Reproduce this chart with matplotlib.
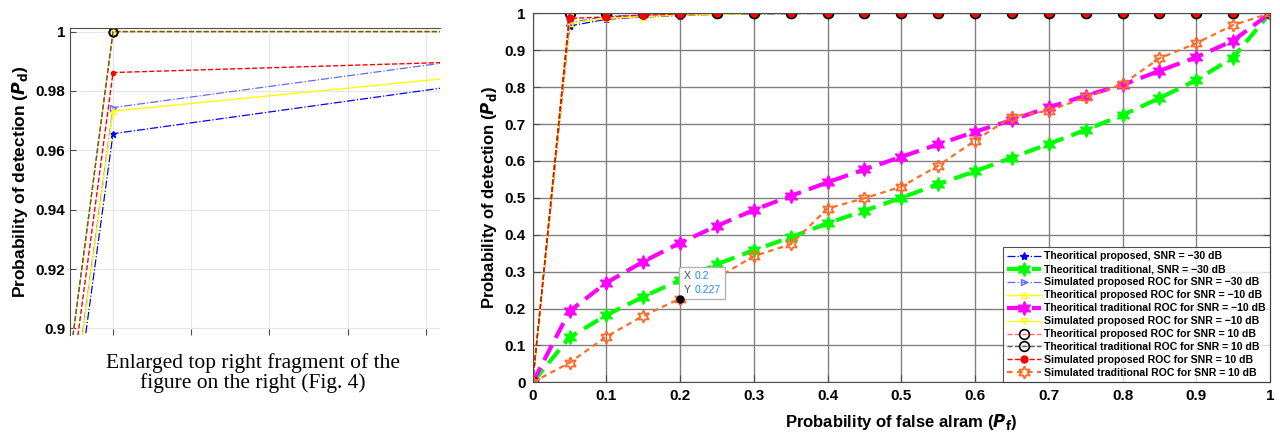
import numpy as np
import matplotlib.pyplot as plt
from matplotlib.offsetbox import TextArea, HPacker, VPacker, AnnotationBbox

plt.rcParams['font.family'] = ['Liberation Sans', 'DejaVu Sans']

# false alarm grid
pf = np.round(np.arange(0, 1.0001, 0.05), 2)

# proposed detectors
th_prop_m30 = [0, 0.9656, 0.9839, 0.990, 0.994, 0.997, 0.998, 0.999, 0.9995, 1, 1, 1, 1, 1, 1, 1, 1, 1, 1, 1, 1]
sim_prop_m30 = [0, 0.9744, 0.9922, 0.995, 0.997, 0.999, 1, 1, 1, 1, 1, 1, 1, 1, 1, 1, 1, 1, 1, 1, 1]
th_prop_m10 = [0, 0.9732, 0.9861, 0.991, 0.995, 0.997, 0.999, 0.9995, 1, 1, 1, 1, 1, 1, 1, 1, 1, 1, 1, 1, 1]
sim_prop_m10 = [0, 1, 1, 1, 1, 1, 1, 1, 1, 1, 1, 1, 1, 1, 1, 1, 1, 1, 1, 1, 1]
th_prop_10 = [0, 1, 1, 1, 1, 1, 1, 1, 1, 1, 1, 1, 1, 1, 1, 1, 1, 1, 1, 1, 1]
th_trad_10 = [0, 1, 1, 1, 1, 1, 1, 1, 1, 1, 1, 1, 1, 1, 1, 1, 1, 1, 1, 1, 1]
sim_prop_10 = [0, 0.9862, 0.9902, 0.995, 0.998, 1, 1, 1, 1, 1, 1, 1, 1, 1, 1, 1, 1, 1, 1, 1, 1]

# traditional detectors
th_trad_m30 = [0, 0.122, 0.182, 0.232, 0.277, 0.320, 0.358, 0.393, 0.431, 0.465, 0.500,
               0.537, 0.572, 0.609, 0.646, 0.684, 0.724, 0.770, 0.819, 0.880, 1.0]
th_trad_m10 = [0, 0.193, 0.270, 0.327, 0.378, 0.424, 0.467, 0.505, 0.542, 0.577, 0.611,
               0.645, 0.679, 0.711, 0.745, 0.777, 0.806, 0.844, 0.881, 0.926, 1.0]
sim_trad_10 = [0, 0.053, 0.124, 0.180, 0.227, 0.283, 0.342, 0.374, 0.471, 0.499, 0.530,
               0.587, 0.655, 0.720, 0.736, 0.772, 0.808, 0.878, 0.919, 0.968, 1.0]

labels = ['Theoritical proposed, SNR = \u221230 dB',
          'Theoritical traditional, SNR = \u221230 dB',
          'Simulated proposed ROC for SNR = \u221230 dB',
          'Theoritical proposed ROC for SNR = \u221210 dB',
          'Theoritical traditional ROC for SNR = \u221210 dB',
          'Simulated proposed ROC for SNR = \u221210 dB',
          'Theoritical proposed ROC for SNR = 10 dB',
          'Theoritical traditional ROC for SNR = 10 dB',
          'Simulated proposed ROC for SNR = 10 dB',
          'Simulated traditional ROC for SNR = 10 dB']

tip_x, tip_y = 0.2, 0.227

hexa = (6, 1, 0)
orange = (1.0, 0.42, 0.16)


def draw(ax, small):
    ms = 4 if small else 5
    ax.plot(pf, th_prop_m30, color='blue', ls='-.', lw=0.9, marker='*', ms=ms + 1, label=labels[0])
    ax.plot(pf, th_trad_m30, color=(0, 1, 0), lw=3, dashes=(4, 2), marker=hexa, ms=10, label=labels[1])
    ax.plot(pf, sim_prop_m30, color=(0.4, 0.4, 1), ls='-.', lw=0.9, marker='>', ms=ms, mfc='none', label=labels[2])
    ax.plot(pf, th_prop_m10, color=(1, 1, 0), ls='-', lw=1, marker='^', ms=ms, mfc='none', label=labels[3])
    ax.plot(pf, th_trad_m10, color=(1, 0, 1), lw=3, dashes=(4, 2), marker=hexa, ms=10, label=labels[4])
    ax.plot(pf, sim_prop_m10, color=(1, 1, 0), ls='-', lw=1, marker='v', ms=ms, mfc='none', label=labels[5])
    ax.plot(pf, th_prop_10, color=(1, 0.4, 0.4), ls='--', lw=1, marker='o', ms=ms + 2, mfc='none', mec='black',
            mew=1.2, label=labels[6])
    ax.plot(pf, th_trad_10, color=(0.35, 0.35, 0.35), ls='--', lw=1, marker='o', ms=ms + 2, mfc='none', mec='black',
            mew=1.2, label=labels[7])
    ax.plot(pf, sim_prop_10, color='red', ls='--', lw=1, marker='o', ms=(ms if not small else ms - 1),
            mfc='red', mec='red', label=labels[8])
    ax.plot(pf, sim_trad_10, color=orange, lw=1.6, dashes=(2.5, 2), marker=hexa, ms=9, mfc='none', mew=1.3,
            label=labels[9])


fig = plt.figure(figsize=(12.8, 4.37), dpi=100)

# left: enlarged fragment
ax1 = fig.add_axes([70 / 1280, 1 - 335 / 437, 370 / 1280, 307 / 437])
draw(ax1, True)
ax1.set_xlim(0.0445, 0.0918)
ax1.set_ylim(0.8978, 1.0012)
ax1.set_xticks([0.05, 0.06, 0.07, 0.08, 0.09])
ax1.set_xticklabels([])
ax1.set_yticks([0.9, 0.92, 0.94, 0.96, 0.98, 1.0])
ax1.set_yticklabels(['0.9', '0.92', '0.94', '0.96', '0.98', '1'], fontweight='bold', fontsize=11)
ax1.grid(True, color=(0.9, 0.9, 0.9), lw=0.8)
ax1.tick_params(direction='in', length=4, color=(0.3, 0.3, 0.3), top=False, right=False)
ax1.spines['right'].set_visible(False)
ax1.spines['bottom'].set_visible(False)
for s in ['top', 'left']:
    ax1.spines[s].set_color((0.3, 0.3, 0.3))
ax1.set_ylabel(r'Probability of detection ($\mathbfit{P}_{\mathbf{d}}$)', fontweight='bold', fontsize=12.5)

fig.text(253 / 1280, 1 - 373 / 437, 'Enlarged top right fragment of the\nfigure on the right (Fig. 4)',
         ha='center', va='center', fontsize=15.5, family='Liberation Serif', linespacing=1.0)

# right: full ROC
ax2 = fig.add_axes([532.7 / 1280, 1 - 382.3 / 437, 737.3 / 1280, 369 / 437])
draw(ax2, False)
ax2.set_xlim(0, 1)
ax2.set_ylim(0, 1)
ticks = np.round(np.arange(0, 1.01, 0.1), 1)
ax2.set_xticks(ticks)
ax2.set_yticks(ticks)
tl = ['0'] + ['%.1f' % t for t in ticks[1:-1]] + ['1']
ax2.set_xticklabels(tl, fontweight='bold', fontsize=11)
ax2.set_yticklabels(tl, fontweight='bold', fontsize=11)
ax2.grid(True, color=(0.5, 0.5, 0.5), lw=1)
ax2.set_axisbelow(True)
ax2.tick_params(direction='in', length=5, color=(0.3, 0.3, 0.3), top=True, right=True, pad=5)
for s in ax2.spines.values():
    s.set_color((0.3, 0.3, 0.3))
ax2.set_xlabel(r'Probability of false alram ($\mathbfit{P}_{\mathbf{f}}$)', fontweight='bold', fontsize=12,
               labelpad=6)
ax2.set_ylabel(r'Probability of detection ($\mathbfit{P}_{\mathbf{d}}$)', fontweight='bold', fontsize=12)

leg = ax2.legend(loc='lower right', prop={'weight': 'bold', 'size': 7.6}, frameon=True, fancybox=False,
                 edgecolor=(0.15, 0.15, 0.15), borderpad=0.4, labelspacing=0.28, handlelength=3.2,
                 handletextpad=0.3, borderaxespad=0)
leg.get_frame().set_linewidth(0.8)

# data tip
ax2.plot([tip_x], [tip_y], 'o', color='black', ms=5, zorder=7)
grey = (0.3, 0.3, 0.3)
blue = (0.1, 0.55, 1)
row_x = HPacker(children=[TextArea('X', textprops=dict(color=grey, size=7.5)),
                          TextArea('%g' % tip_x, textprops=dict(color=blue, size=7.5))], sep=3, pad=0)
row_y = HPacker(children=[TextArea('Y', textprops=dict(color=grey, size=7.5)),
                          TextArea('%g' % tip_y, textprops=dict(color=blue, size=7.5))], sep=3, pad=0)
tip = VPacker(children=[row_x, row_y], sep=3, pad=0, align='left')
ab = AnnotationBbox(tip, (tip_x, tip_y), xybox=(2.5, 2.5), boxcoords='offset points', box_alignment=(0, 0),
                    pad=0.4, bboxprops=dict(fc='white', ec=(0.7, 0.7, 0.7), lw=1, boxstyle='square'), zorder=6)
ax2.add_artist(ab)

fig.savefig('out.png', dpi=100)
